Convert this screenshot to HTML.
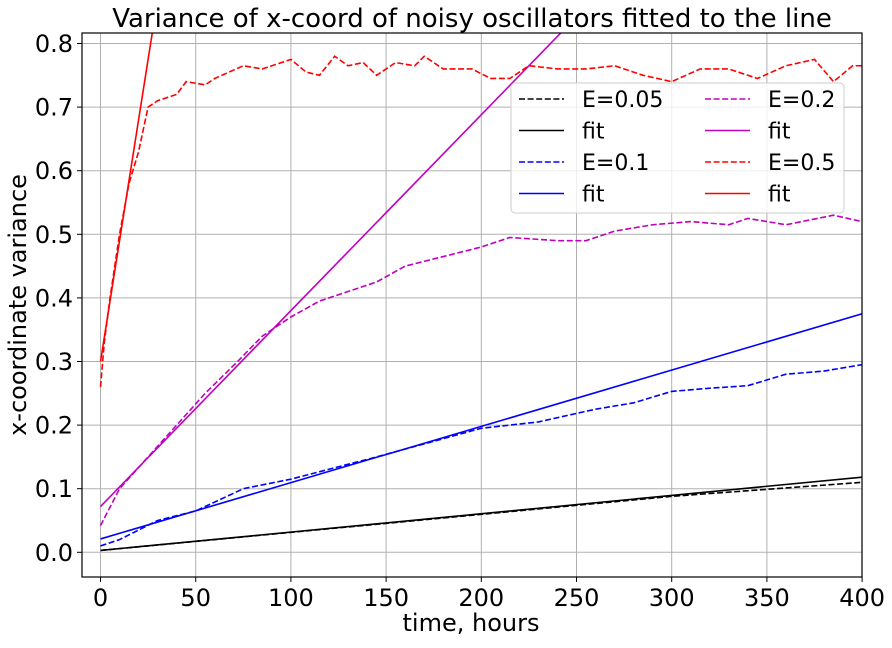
<!DOCTYPE html>
<html><head><meta charset="utf-8"><style>
body{margin:0;background:#fff;font-family:"Liberation Sans","DejaVu Sans",sans-serif}
svg text{font-family:"DejaVu Sans","Liberation Sans",sans-serif}
</style></head><body>
<svg id="c" width="892" height="643" xmlns="http://www.w3.org/2000/svg">
<defs><clipPath id="pa"><rect x="82" y="33" width="780" height="544"/></clipPath></defs>
<text x="472" y="27" text-anchor="middle" font-size="26">Variance of x-coord of noisy oscillators fitted to the line</text>
<g id="grid"></g><g id="series" clip-path="url(#pa)"></g>
<rect x="82" y="33" width="780" height="544" fill="none" stroke="#000" stroke-width="1.2"/>
<g id="ticks"></g>
<text x="471" y="631" text-anchor="middle" font-size="24">time, hours</text>
<text transform="translate(26,305) rotate(-90)" text-anchor="middle" font-size="24">x-coordinate variance</text>
<g id="legend"></g>
</svg>
<script>
const xTicks=[0,50,100,150,200,250,300,350,400];
const yTicks=[0.0,0.1,0.2,0.3,0.4,0.5,0.6,0.7,0.8];
const t05=[0,300,400];const v05=[0.003,0.088,0.11];
const t1=[0,10,20,30,50,75,100,145,200,230,260,280,300,320,340,360,380,400];
const v1=[0.01,0.02,0.035,0.05,0.065,0.1,0.115,0.15,0.195,0.205,0.225,0.235,0.253,0.258,0.262,0.28,0.285,0.295];
const t2=[0,10,25,40,55,72,85,100,115,130,145,160,180,200,215,240,255,270,290,310,330,340,360,385,400];
const v2=[0.042,0.1,0.15,0.2,0.25,0.3,0.34,0.37,0.395,0.41,0.425,0.45,0.465,0.48,0.495,0.49,0.49,0.505,0.515,0.52,0.515,0.525,0.515,0.53,0.52];
const t5=[0,2,5,10,15,20,25,30,40,45,55,60,75,85,90,100,108,115,123,130,138,145,155,165,170,180,195,205,215,225,240,255,270,285,300,315,330,345,360,375,385,395,400];
const v5=[0.26,0.33,0.4,0.5,0.58,0.63,0.7,0.71,0.72,0.74,0.735,0.745,0.765,0.76,0.765,0.775,0.755,0.75,0.78,0.765,0.77,0.75,0.77,0.765,0.78,0.76,0.76,0.745,0.745,0.765,0.76,0.76,0.765,0.75,0.74,0.76,0.76,0.745,0.765,0.775,0.74,0.765,0.765];
const fitA=[0.003,0.021,0.072,0.30];
const fitB=[0.000288,0.000885,0.00308,0.019];
const X=v=>100.5+v*1.904;
const Y=v=>552.3-v*636;
const NS="http://www.w3.org/2000/svg";
function mk(tag,attrs,parent){const e=document.createElementNS(NS,tag);for(const k in attrs)e.setAttribute(k,attrs[k]);parent.appendChild(e);return e;}
const G=document.getElementById('grid'),S=document.getElementById('series'),T=document.getElementById('ticks'),L=document.getElementById('legend');
xTicks.forEach(v=>{const l=mk('line',{x1:X(v),x2:X(v),y1:33,y2:577,stroke:'#b0b0b0','stroke-width':1},G);

mk('line',{x1:X(v),x2:X(v),y1:577,y2:582,stroke:'#000'},T);
const t=mk('text',{x:X(v),y:606,'text-anchor':'middle','font-size':24},T);t.textContent=v;
});
yTicks.forEach(v=>{const l=mk('line',{x1:82,x2:862,y1:Y(v),y2:Y(v),stroke:'#b0b0b0','stroke-width':1},G);

mk('line',{x1:77,x2:82,y1:Y(v),y2:Y(v),stroke:'#000'},T);
const t=mk('text',{x:73,y:Y(v)+8.5,'text-anchor':'end','font-size':24},T);t.textContent=v.toFixed(1);
});
const cols=['#000','#0000ff','#bf00bf','#ff0000'];
const data=[[t05,v05],[t1,v1],[t2,v2],[t5,v5]];
const names=['e005','e01','e02','e05'];
data.forEach((d,i)=>{
const p=mk('polyline',{points:d[0].map((t,j)=>X(t)+','+Y(d[1][j])).join(' '),fill:'none',stroke:cols[i],'stroke-width':1.6,'stroke-dasharray':'6,2.6'},S);

const f=mk('line',{x1:X(0),y1:Y(fitA[i]),x2:X(400),y2:Y(fitA[i]+fitB[i]*400),stroke:cols[i],'stroke-width':1.6},S);
});
const box=mk('rect',{x:511,y:83,width:333,height:130,rx:4,fill:'#fff','fill-opacity':0.8,stroke:'#ccc'},L);

const labs=['E=0.05','fit','E=0.1','fit','E=0.2','fit','E=0.5','fit'];
labs.forEach((s,k)=>{const col=k<4?0:1,row=k%4,ci=Math.floor(k/2),dash=k%2==0;
const x0=col?705:519,y=99+row*31.5;
const l=mk('line',{x1:x0,x2:x0+45,y1:y,y2:y,stroke:cols[ci],'stroke-width':1.6},L);
if(dash)l.setAttribute('stroke-dasharray','6,2.6');

const t=mk('text',{x:x0+63,y:y+8,'font-size':22},L);t.textContent=s;
});
</script>
</body></html>
